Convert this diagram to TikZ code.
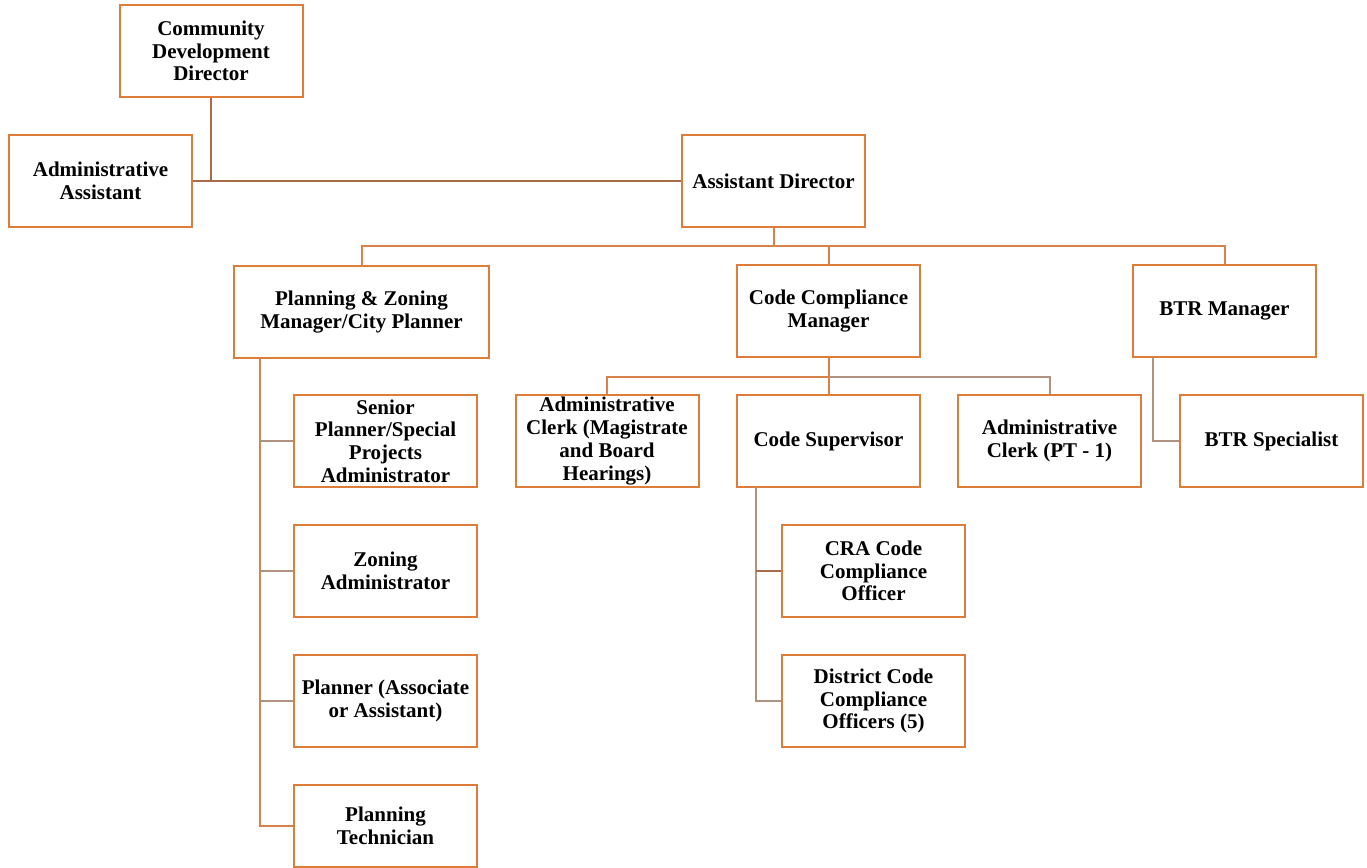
\documentclass[tikz,border=0pt]{standalone}
\usepackage{fontspec}
\setmainfont{Liberation Serif}
\usetikzlibrary{positioning}
\definecolor{boxorange}{RGB}{222,124,58}
\definecolor{linebrown}{RGB}{168,108,74}
\definecolor{lineorange}{RGB}{214,130,74}
\definecolor{linegrey}{RGB}{176,146,128}
\tikzset{
  box/.style={draw=boxorange, line width=2pt, fill=white, align=center,
              minimum width=183pt, minimum height=92pt, inner sep=0pt,
              font=\fontsize{21}{22.7}\selectfont\bfseries},
  wide/.style={box, minimum width=255pt},
  link/.style={line width=2pt, draw=lineorange},
  blink/.style={line width=2pt, draw=linebrown},
  glink/.style={line width=2pt, draw=linegrey}
}

\begin{document}
\begin{tikzpicture}[x=1pt, y=-1pt]
\useasboundingbox (0,0) rectangle (1367,867);
% Nodes
\node[box] (cdd) at (211,51) {Community\\Development\\Director};
\node[box] (aa) at (100.5,181) {Administrative\\Assistant};
\node[box] (ad) at (773.5,181) {Assistant Director};
\node[wide] (pz) at (361.5,312) {Planning \& Zoning\\Manager/City Planner};
\node[box] (ccm) at (828.5,311) {Code Compliance\\Manager};
\node[box] (btrm) at (1224.5,311) {BTR Manager};
\node[box] (spa) at (385.5,441) {Senior\\Planner/Special\\Projects\\Administrator};
\node[box] (za) at (385.5,571) {Zoning\\Administrator};
\node[box] (pl) at (385.5,701) {Planner (Associate\\or Assistant)};
\node[box, minimum height=82pt] (pt) at (385.5,826) {Planning\\Technician};
\node[box] (acm) at (607,441) {Administrative\\Clerk (Magistrate\\and Board\\Hearings)};
\node[box] (cs) at (828.5,441) {Code Supervisor};
\node[box] (acp) at (1049.5,441) {Administrative\\Clerk (PT - 1)};
\node[box] (btrs) at (1271.5,441) {BTR Specialist};
\node[box] (cra) at (873.5,571) {CRA Code\\Compliance\\Officer};
\node[box] (dco) at (873.5,701) {District Code\\Compliance\\Officers (5)};
% Bus points
\coordinate (adbus) at (773.5,246);
\coordinate (ccmbus) at (828.5,377);
\coordinate (pzv) at (260,358);
\coordinate (csv) at (756,487);
\coordinate (btrv) at (1153,357);
% Lines
\draw[blink] (cdd.south) -- (cdd.south |- aa.east);
\draw[blink] (aa.east) -- (ad.west);
\draw[link] (ad.south) -- (adbus);
\draw[link] (pz.north) |- (adbus) -| (btrm.north);
\draw[link] (ccm.north) -- (ccm.north |- adbus);
\draw[link] (pzv) |- (pt.west);
\draw[glink] (pzv |- spa.west) -- (spa.west);
\draw[glink] (pzv |- za.west) -- (za.west);
\draw[glink] (pzv |- pl.west) -- (pl.west);
\draw[link] (ccm.south) -- (ccmbus);
\draw[link] (acm.north) |- (ccmbus);
\draw[glink] (ccmbus) -| (acp.north);
\draw[link] (ccmbus) -- (cs.north);
\draw[glink] (csv) |- (dco.west);
\draw[blink] (csv |- cra.west) -- (cra.west);
\draw[glink] (btrv) |- (btrs.west);
\end{tikzpicture}
\end{document}
